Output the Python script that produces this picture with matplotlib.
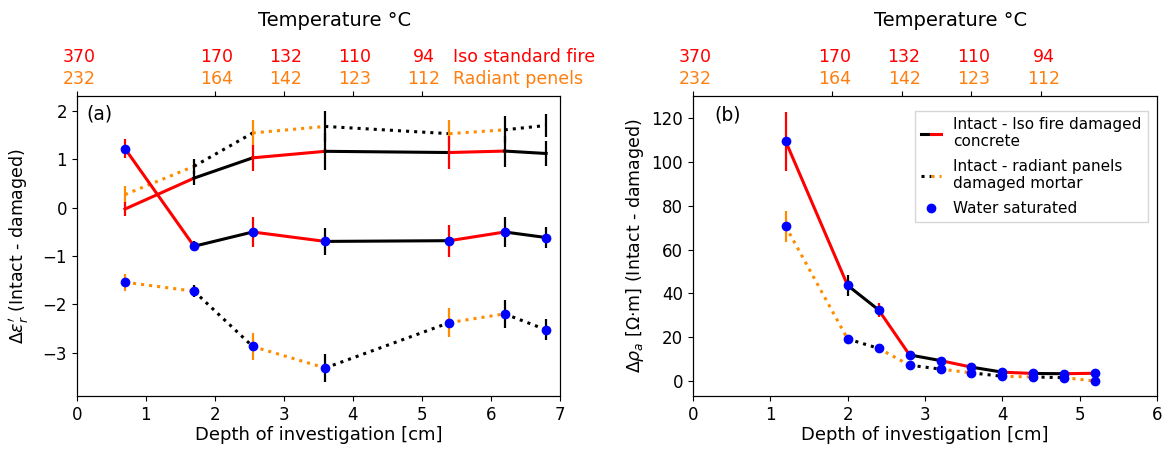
import numpy as np
import matplotlib
matplotlib.use('Agg')
import matplotlib.pyplot as plt
from matplotlib.lines import Line2D
from matplotlib.legend_handler import HandlerTuple

# ---- panel (a): permittivity difference ----
depth_a = [0.7, 1.7, 2.55, 3.6, 5.4, 6.2, 6.8]
iso_dry = [-0.03, 0.61, 1.03, 1.165, 1.14, 1.17, 1.12]
iso_dry_err = [0.15, 0.15, 0.27, 0.38, 0.35, 0.32, 0.26]
rad_dry = [0.27, 0.855, 1.545, 1.68, 1.53, 1.61, 1.70]
rad_dry_err = [0.18, 0.15, 0.26, 0.32, 0.28, 0.28, 0.23]
iso_sat = [1.22, -0.80, -0.505, -0.70, -0.685, -0.505, -0.62]
iso_sat_err = [0.19, 0.10, 0.31, 0.28, 0.33, 0.31, 0.22]
rad_sat = [-1.545, -1.73, -2.875, -3.32, -2.38, -2.20, -2.53]
rad_sat_err = [0.18, 0.12, 0.28, 0.29, 0.30, 0.29, 0.22]

# ---- panel (b): apparent resistivity difference ----
depth_b = [1.2, 2.0, 2.4, 2.8, 3.2, 3.6, 4.0, 4.4, 4.8, 5.2]
iso_rho = [109.5, 43.6, 32.4, 11.8, 9.2, 6.2, 3.9, 3.3, 3.2, 3.4]
iso_rho_err = [13.4, 4.9, 3.3, 1.2, 1.0, 0.8, 0.6, 0.5, 0.5, 0.5]
rad_rho = [70.6, 19.1, 14.8, 7.1, 5.3, 3.6, 2.0, 1.7, 1.4, -0.2]
rad_rho_err = [7.0, 1.5, 1.0, 0.8, 0.6, 0.5, 0.4, 0.4, 0.3, 0.3]

# ---- temperature labels for the top axis ----
temp_ticks_a = [0, 2, 3, 4, 5]
temp_ticks_b = [0, 1.8, 2.7, 3.6, 4.5]
temp_iso = ['370', '170', '132', '110', '94']
temp_rad = ['232', '164', '142', '123', '112']

ORANGE = 'darkorange'
TXT_ORANGE = '#ff7f0e'


def alt_line(ax, x, y, yerr, c1, c2, ls, dots=False):
    # segments alternate colour between the two samples
    n = len(x)
    for i in range(n - 1):
        c = c1 if i % 2 == 0 else c2
        ax.plot(x[i:i + 2], y[i:i + 2], color=c, ls=ls, lw=2.2)
    for i in range(n):
        c = c1 if min(i, n - 2) % 2 == 0 else c2
        ax.errorbar(x[i], y[i], yerr=yerr[i], fmt='none', ecolor=c,
                    elinewidth=1.6, capsize=0)
    if dots:
        ax.plot(x, y, 'o', color='blue', ms=6, zorder=5)


def top_axis(ax, ticks, show_names, tx):
    ax2 = ax.twiny()
    ax2.set_xlim(ax.get_xlim())
    ax2.set_xticks(ticks)
    ax2.set_xticklabels([''] * len(ticks))
    tr = ax2.get_xaxis_transform()
    for t, a, b in zip(ticks, temp_iso, temp_rad):
        ax2.text(t + 0.03, 1.132, a, color='red', ha='center', va='center',
                 fontsize=12.5, transform=tr)
        ax2.text(t + 0.03, 1.057, b, color=TXT_ORANGE, ha='center', va='center',
                 fontsize=12.5, transform=tr)
    if show_names:
        ax2.text(5.45, 1.132, 'Iso standard fire', color='red', ha='left',
                 va='center', fontsize=12.5, transform=tr)
        ax2.text(5.45, 1.057, 'Radiant penels', color=TXT_ORANGE, ha='left',
                 va='center', fontsize=12.5, transform=tr)
    ax2.text(tx, 1.255, 'Temperature °C', ha='center', va='center',
             fontsize=14, transform=ax2.transAxes)
    return ax2


fig = plt.figure(figsize=(11.69, 4.5), dpi=100)
ax = fig.add_axes([0.0656, 0.12, 0.4134, 0.6656])
axb = fig.add_axes([0.5926, 0.12, 0.3974, 0.6656])

# (a)
alt_line(ax, depth_a, rad_dry, rad_dry_err, ORANGE, 'black', ':')
alt_line(ax, depth_a, iso_dry, iso_dry_err, 'red', 'black', '-')
alt_line(ax, depth_a, rad_sat, rad_sat_err, ORANGE, 'black', ':', dots=True)
alt_line(ax, depth_a, iso_sat, iso_sat_err, 'red', 'black', '-', dots=True)
ax.set_xlim(0, 7)
ax.set_ylim(-3.9, 2.3)
ax.set_xlabel('Depth of investigation [cm]', fontsize=13, labelpad=2)
ax.set_ylabel(r"$\Delta\varepsilon_r'$ (Intact - damaged)", fontsize=12.5,
              labelpad=8)
ax.tick_params(labelsize=12)
ax.text(0.021, 0.942, '(a)', transform=ax.transAxes, fontsize=13.5,
        ha='left', va='center')
top_axis(ax, temp_ticks_a, True, 0.534)

# (b)
alt_line(axb, depth_b, rad_rho, rad_rho_err, ORANGE, 'black', ':', dots=True)
alt_line(axb, depth_b, iso_rho, iso_rho_err, 'red', 'black', '-', dots=True)
axb.set_xlim(0, 6)
axb.set_ylim(-7, 130)
axb.set_xlabel('Depth of investigation [cm]', fontsize=13, labelpad=2)
axb.set_ylabel(r'$\Delta\rho_a$ [Ω·m] (Intact - damaged)', fontsize=12.5)
axb.tick_params(labelsize=12)
axb.text(0.046, 0.939, '(b)', transform=axb.transAxes, fontsize=13.5,
         ha='left', va='center')
top_axis(axb, temp_ticks_b, False, 0.554)

h_iso = (Line2D([], [], color='black', lw=2.2), Line2D([], [], color='red', lw=2.2))
h_rad = (Line2D([], [], color='black', ls=':', lw=2.2),
         Line2D([], [], color=ORANGE, ls=':', lw=2.2))
h_sat = Line2D([], [], color='blue', marker='o', ls='none', ms=6)
axb.legend([h_iso, h_rad, h_sat],
           ['Intact - Iso fire damaged\nconcrete',
            'Intact - radiant panels\ndamaged mortar',
            'Water saturated'],
           handler_map={tuple: HandlerTuple(ndivide=None, pad=0)},
           loc='upper right', bbox_to_anchor=(0.979, 0.953), borderaxespad=0,
           fontsize=11, handlelength=1.3, labelspacing=0.65, fancybox=False)

fig.savefig('out.png')
